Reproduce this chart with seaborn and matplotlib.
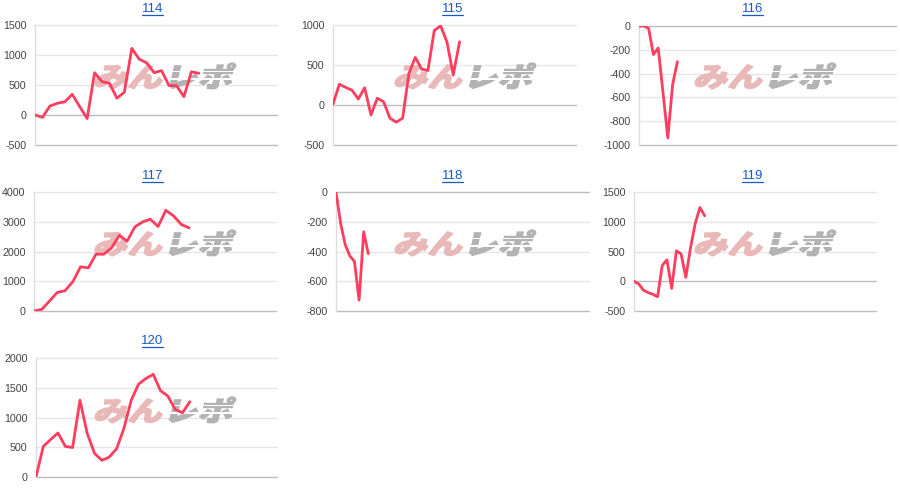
import numpy as np
import pandas as pd
import matplotlib
matplotlib.use("Agg")
import matplotlib.pyplot as plt
import seaborn as sns
from matplotlib.textpath import TextPath
from matplotlib.font_manager import FontProperties
from matplotlib.patches import PathPatch, Rectangle
from matplotlib.transforms import Affine2D, IdentityTransform
from matplotlib.lines import Line2D

# cumulative values per machine number
names = ["114", "115", "116", "117", "118", "119", "120"]
v114 = [0, -40, 150, 195, 220, 345, 140, -60, 705, 555, 530, 280, 380, 1110,
        930, 870, 705, 740, 490, 490, 305, 720, 695]
v115 = [10, 260, 220, 185, 75, 215, -125, 85, 40, -165, -215, -165, 395, 595,
        450, 430, 930, 990, 790, 375, 790]
v116 = [0, 0, -20, -240, -185, -560, -940, -490, -300]
v117 = [0, 55, 335, 625, 680, 985, 1485, 1450, 1910, 1910, 2120, 2545, 2345,
        2825, 2995, 3085, 2840, 3385, 3195, 2905, 2795]
v118 = [0, -210, -355, -430, -467, -727, -267, -415]
v119 = [0, -45, -150, -190, -220, -260, 265, 360, -120, 510, 460, 65, 560,
        970, 1240, 1100]
v120 = [0, 515, 630, 740, 515, 495, 1290, 730, 395, 280, 335, 475, 815, 1290,
        1560, 1655, 1725, 1450, 1360, 1135, 1080, 1265]
values = [v114, v115, v116, v117, v118, v119, v120]

# y ranges and tick steps
ylims = [(-500, 1500), (-500, 1000), (-1000, 0), (0, 4000), (-800, 0), (-500, 1500), (0, 2000)]
ysteps = [500, 500, 200, 1000, 200, 500, 500]
# x extent of each plot (in data slots)
xmaxs = [32.5, 38.4, 53.5, 31.2, 54.8, 51.4, 32.9]

# plot boxes in pixels (left, top, right, bottom)
W, H = 900, 498
boxes = [(35, 25, 277, 145), (333, 25, 576, 145), (639, 26, 896, 145),
         (34, 192, 276, 311), (336, 192, 589, 311), (634, 192, 876, 311),
         (36, 358, 277, 477)]
cells = [(0, 0), (0, 1), (0, 2), (1, 0), (1, 1), (1, 2), (2, 0)]
title_y = [9.5, 176, 341]
mark_y = [76, 243, 410]

sns.set_style("white")
plt.rcParams['font.family'] = ['Liberation Sans', 'DejaVu Sans']
plt.rcParams['axes.unicode_minus'] = False

line_color = '#ff3d5e'
link_color = '#1558c6'

fig = plt.figure(figsize=(W / 100, H / 100), dpi=100)

fp = FontProperties(family='Noto Sans CJK JP', weight='black')


def watermark(ax, cx, cy):
    p1 = TextPath((0, 0), 'みん', size=10, prop=fp)
    e1 = p1.get_extents()
    p2 = TextPath((e1.x1 + 0.6, 0), 'レポ', size=10, prop=fp)
    e2 = p2.get_extents()
    x0, y0 = e1.x0, min(e1.y0, e2.y0)
    x1, y1 = e2.x1, max(e1.y1, e2.y1)
    mw, mh = 143, 26
    slant = 14
    sw = mw - mh * np.tan(np.radians(slant))
    base_x = cx - mw / 2
    base_y = (H - cy) - mh / 2
    tr = (Affine2D().translate(-x0, -y0).scale(sw / (x1 - x0), mh / (y1 - y0))
          .skew_deg(slant, 0).translate(base_x, base_y))
    ax.add_patch(PathPatch(p1, transform=tr + IdentityTransform(), facecolor='#e9b9b9',
                           edgecolor='#e9b9b9', linewidth=1.0, zorder=1))
    ax.add_patch(PathPatch(p2, transform=tr + IdentityTransform(), facecolor='#b3b3b3',
                           edgecolor='#b3b3b3', linewidth=1.0, zorder=1))
    # white speed stripes across the grey part
    gx = base_x + (e2.x0 - x0) * sw / (x1 - x0)
    for f in (0.36, 0.64):
        ax.add_patch(Rectangle((gx - 4, base_y + f * mh), mw, 1.3, transform=IdentityTransform(),
                               facecolor='white', edgecolor='none', zorder=1.5))


for i, name in enumerate(names):
    l, t, r, b = boxes[i]
    row, col = cells[i]
    ax = fig.add_axes([l / W, 1 - b / H, (r - l) / W, (b - t) / H])
    df = pd.DataFrame({'x': np.arange(len(values[i])), 'y': values[i]})
    sns.lineplot(data=df, x='x', y='y', ax=ax, color=line_color, linewidth=2.0, zorder=3)

    lo, hi = ylims[i]
    ticks = np.arange(lo, hi + 1, ysteps[i])
    ax.set_ylim(lo, hi)
    ax.set_xlim(0, xmaxs[i])
    ax.set_yticks(ticks)
    ax.set_yticklabels([str(int(v)) for v in ticks])
    ax.set_xticks([])
    ax.set_xlabel('')
    ax.set_ylabel('')
    ax.tick_params(axis='y', length=0, pad=6, labelsize=7.7, labelcolor='#444444')
    for v in ticks:
        dark = (v == 0 or v == lo)
        ax.axhline(v, color='#bdbdbd' if dark else '#e6e6e6', linewidth=1.0,
                   zorder=2 if dark else 0.5, clip_on=False)
    for s in ['top', 'right', 'bottom']:
        ax.spines[s].set_visible(False)
    ax.spines['left'].set_color('#dddddd')
    ax.spines['left'].set_linewidth(1.0)

    watermark(ax, col * 300 + 165, mark_y[row])

    # underlined link-style title
    tx, ty = col * 300 + 152.5, title_y[row]
    fig.text(tx / W, 1 - ty / H, name, ha='center', va='center', fontsize=9.5, color=link_color)
    fig.add_artist(Line2D([(tx - 10.5) / W, (tx + 10.5) / W], [1 - (ty + 6) / H] * 2,
                          transform=fig.transFigure, color=link_color, linewidth=0.9))

plt.savefig("out.png", dpi=100)
